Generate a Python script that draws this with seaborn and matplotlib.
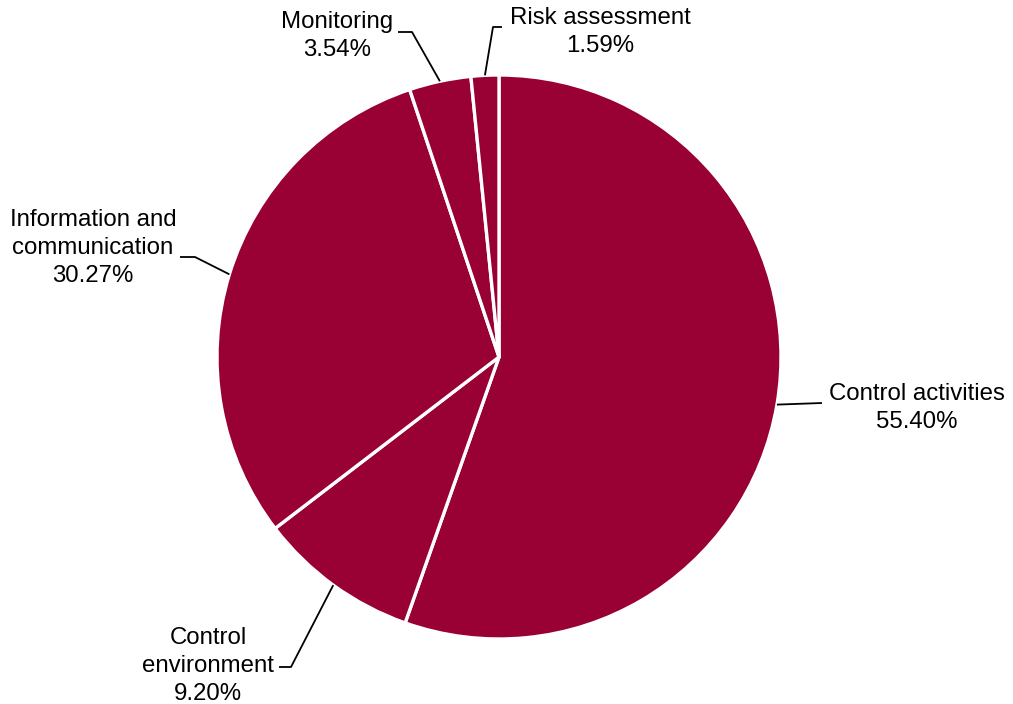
import numpy as np
import matplotlib
matplotlib.use("Agg")
import matplotlib.pyplot as plt
import seaborn as sns

# Share of findings by internal-control component
categories = ["Control activities", "Control\nenvironment", "Information and\ncommunication",
              "Monitoring", "Risk assessment"]
shares = [55.40, 9.20, 30.27, 3.54, 1.59]

sns.set_theme(style="white")
plt.rcParams["font.family"] = ["Liberation Sans", "DejaVu Sans"]

W, H = 1013, 704
fig = plt.figure(figsize=(W / 100, H / 100), dpi=100)
ax = fig.add_axes([0, 0, 1, 1])

cx, cy, r = 499, H - 357, 282
color = "#990033"
wedges, _ = ax.pie(shares, colors=[color] * len(shares), startangle=90, counterclock=False,
                   center=(cx, cy), radius=r, frame=True,
                   wedgeprops=dict(edgecolor="white", linewidth=2.4))
ax.set_xlim(0, W)
ax.set_ylim(0, H)
ax.set_aspect("equal")
ax.axis("off")

# label text centres and leader-line bends (pixel coords, y measured from top)
label_pos = [(917, 408), (208, 666), (93, 248), (337, 36), (600, 32)]
bends = [[(822, 403)],
         [(291, 667), (279, 667)],
         [(195, 257), (180, 257)],
         [(412, 32), (398, 32)],
         [(493, 27), (502, 27)]]

for w, name, val, (tx, ty), bend in zip(wedges, categories, shares, label_pos, bends):
    ang = np.deg2rad((w.theta1 + w.theta2) / 2)
    ax0, ay0 = cx + r * np.cos(ang), cy + r * np.sin(ang)
    xs = [ax0] + [b[0] for b in bend]
    ys = [ay0] + [H - b[1] for b in bend]
    ax.plot(xs, ys, color="black", lw=1.3, solid_capstyle="butt")
    ax.text(tx, H - ty, f"{name}\n{val:.2f}%", ha="center", va="center",
            fontsize=17.3, color="black", linespacing=1.33)

fig.savefig("out.png", dpi=100, facecolor="white")
